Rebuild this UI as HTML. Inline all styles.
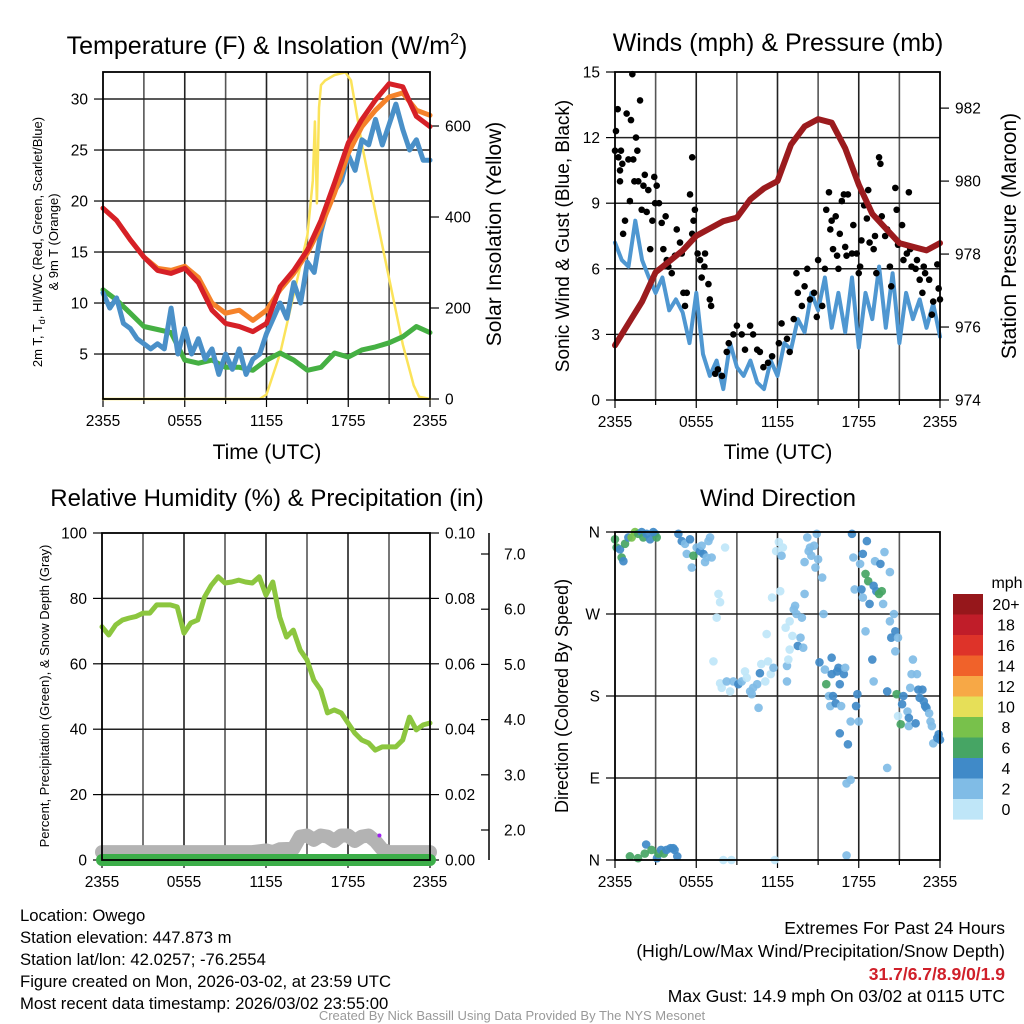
<!DOCTYPE html>
<html><head><meta charset="utf-8"><style>
html,body{margin:0;padding:0;background:#fff;}
svg{display:block;font-family:"Liberation Sans",sans-serif;}
</style></head><body>
<svg id="chart" width="1024" height="1024" viewBox="0 0 1024 1024" xmlns="http://www.w3.org/2000/svg">
<rect x="0" y="0" width="1024" height="1024" fill="#fff"/>
<text x="267" y="54" font-size="25" text-anchor="middle">Temperature (F) &amp; Insolation (W/m<tspan font-size="16" dy="-10">2</tspan><tspan dy="10">)</tspan></text>
<text x="778" y="51" font-size="25" text-anchor="middle">Winds (mph) &amp; Pressure (mb)</text>
<text x="267" y="506" font-size="24" text-anchor="middle">Relative Humidity (%) &amp; Precipitation (in)</text>
<text x="778" y="506" font-size="24" text-anchor="middle">Wind Direction</text>

<text transform="translate(42,242) rotate(-90)" font-size="13" text-anchor="middle">2m T, T<tspan font-size="9" dy="3">d</tspan><tspan dy="-3">, HI/WC (Red, Green, Scarlet/Blue)</tspan></text>
<text transform="translate(58,242) rotate(-90)" font-size="13" text-anchor="middle">&amp; 9m T (Orange)</text>
<text transform="translate(501,234) rotate(-90)" font-size="21" text-anchor="middle">Solar Insolation (Yellow)</text>
<text x="267" y="459" font-size="21" text-anchor="middle">Time (UTC)</text>
<text transform="translate(569,236) rotate(-90)" font-size="19" text-anchor="middle">Sonic Wind &amp; Gust (Blue, Black)</text>
<text transform="translate(1016,236) rotate(-90)" font-size="21" text-anchor="middle">Station Pressure (Maroon)</text>
<text x="778" y="459" font-size="21" text-anchor="middle">Time (UTC)</text>
<text transform="translate(49,696) rotate(-90)" font-size="13" text-anchor="middle">Percent, Precipitation (Green), &amp; Snow Depth (Gray)</text>
<text transform="translate(568,696) rotate(-90)" font-size="18" text-anchor="middle">Direction (Colored By Speed)</text>

<g font-size="16.7">
<text x="20" y="921">Location: Owego</text>
<text x="20" y="943">Station elevation: 447.873 m</text>
<text x="20" y="965">Station lat/lon: 42.0257; -76.2554</text>
<text x="20" y="987">Figure created on Mon, 2026-03-02, at 23:59 UTC</text>
<text x="20" y="1009">Most recent data timestamp: 2026/03/02 23:55:00</text>
</g>
<g font-size="17.5" text-anchor="end">
<text x="1005" y="934">Extremes For Past 24 Hours</text>
<text x="1005" y="957">(High/Low/Max Wind/Precipitation/Snow Depth)</text>
<text x="1005" y="980" fill="#d0202a" font-weight="bold">31.7/6.7/8.9/0/1.9</text>
<text x="1005" y="1002">Max Gust: 14.9 mph On 03/02 at 0115 UTC</text>
</g>
<text x="512" y="1020" font-size="13" fill="#999" text-anchor="middle">Created By Nick Bassill Using Data Provided By The NYS Mesonet</text>
<text x="1007" y="588" font-size="16" text-anchor="middle">mph</text>
</svg>
<script>
// ---------- DATA ----------
const timeLabels = ["2355","0555","1155","1755","2355"];
const timeLabelHours = [0,6,12,18,24];
// Temperature panel (hourly 0..24)
const tempHours = [0,1,2,3,4,5,6,7,8,9,10,11,12,13,14,15,16,17,18,19,20,21,22,23,24];
const redT = [19.3,18.1,16.2,14.5,13.2,12.9,13.4,12.0,9.3,8.0,7.7,7.2,8.0,11.6,13.2,15.2,18.1,21.8,25.7,28.0,29.9,31.5,31.2,28.3,27.3];
const orangeT = [19.3,18.1,16.2,14.5,13.4,13.2,13.6,12.5,10.0,9.0,9.3,8.3,9.3,11.3,12.9,14.9,17.5,20.8,24.7,27.3,28.9,30.2,30.6,28.9,28.4];
const greenTd = [11.3,10.3,9.0,7.7,7.4,7.1,4.4,4.1,4.4,3.7,3.7,3.4,4.4,5.1,4.4,3.4,3.7,5.1,4.7,5.4,5.7,6.1,6.7,7.7,7.1];
const blueHours = [0,0.5,1,1.5,2,2.5,3,3.5,4,4.5,5,5.5,6,6.5,7,7.5,8,8.5,9,9.5,10,10.5,11,11.5,12,12.5,13,13.5,14,14.5,15,15.5,16,16.5,17,17.5,18,18.5,19,19.5,20,20.5,21,21.5,22,22.5,23,23.5,24];
const blueWC = [11,9.5,10.5,8,7.5,6.5,6,5.5,6,5.5,9.5,5,7.5,5,6.5,4.5,5.5,3,5,3.5,5.5,3,4.5,5,7,8.5,10,8.5,12,10,14,13,17,19.5,21,22,24.5,23,26,25.5,28,25.5,27.5,29.5,27,25,26,24,24];
const solarHours = [0,11.5,12,13,14,15,15.4,15.55,15.7,15.85,16,16.3,17,17.8,18.2,19,20,21,22,22.8,23.2,24];
const solarW = [0,0,10,100,230,360,480,610,430,640,690,700,712,718,700,560,410,265,120,30,5,0];
const tempTicks = [5,10,15,20,25,30];
const solarTicks = [0,200,400,600];
// Winds panel
const windHours = blueHours;
const sonicWind = [7.2,6.4,6.1,8.2,6.4,5.6,4.9,5.6,4.1,4.6,4.0,2.6,4.9,2.1,1.1,1.8,0.5,2.6,1.5,1.1,1.8,0.8,0.5,1.8,1.1,2.6,2.3,3.7,3.1,4.9,4.1,5.6,3.3,4.9,3.1,5.6,2.4,4.9,3.7,6.1,3.3,5.8,2.6,4.9,3.7,4.6,3.3,4.4,2.9];
const pressHours = tempHours;
const pressure = [975.5,976.1,976.7,977.5,977.8,978.1,978.5,978.7,978.9,979.0,979.5,979.8,980.0,981.0,981.5,981.7,981.6,980.9,979.9,979.1,978.7,978.3,978.2,978.1,978.3];
const gustHours = [0,0.07,0.2,0.25,0.37,0.44,0.37,0.54,0.6,0.74,0.86,0.99,1.1,1.18,1.28,1.35,1.43,1.55,1.65,1.72,1.85,1.97,2.1,2.2,2.34,2.46,2.6,2.76,2.9,2.96,3.08,3.25,3.45,3.57,3.74,3.82,3.94,4.19,4.43,4.56,4.8,4.93,5.05,5.17,5.3,5.54,5.7,5.7,5.8,5.9,6.1,6.28,6.4,6.6,6.65,6.9,7.0,7.1,7.4,7.6,7.9,8.25,8.4,8.74,9,9.36,9.6,9.98,10.2,10.5,10.7,10.96,11.3,11.6,12.1,12.3,12.7,12.9,13.2,13.4,13.5,13.8,14.0,14.2,14.4,14.7,14.9,15.0,15.3,15.5,15.6,15.8,15.9,16.0,16.1,16.3,16.4,16.5,16.6,16.75,16.9,17,17.1,17.2,17.5,17.6,17.85,18,18.1,18.2,18.4,18.6,18.7,18.8,19.1,19.2,19.3,19.5,19.6,19.7,19.95,20.1,20.3,20.4,20.7,20.8,20.9,21.2,21.3,21.55,21.7,21.8,21.9,22.2,22.3,22.5,22.7,22.8,22.9,23.2,23.4,23.5,23.8,23.9,24];
const gustSpeeds = [11.4,12.3,13.3,11.1,10.5,11.4,10,10.8,7.6,8.2,13.1,11,9.1,12.8,14.9,11,10,12,11.4,10,13.7,8.7,9.8,10.3,8.6,9.6,6.9,8.2,10.2,9,9.8,9,8.1,6.9,8.4,6.4,6.1,5.8,6.6,7.8,7.2,6.7,4.9,4.3,4.9,9.4,11.1,7.6,8.2,8.7,6.7,6.4,5.6,6.1,6.7,5.3,4.6,4.3,1.2,1.4,1.1,2.2,2.6,3,3.4,3.0,2.3,3.4,3,2.3,2.2,1.5,1.7,2,2.6,3.5,2.8,2.2,3.7,5.8,4.9,4.3,5.2,6,4.6,4.9,3.8,6.4,4.3,6,8.7,9.5,7.8,8.2,6.9,8.4,6.6,6,7.6,9.1,9.4,7.0,6.6,9.4,6.7,8.0,6.7,5.8,6.1,7.3,8.9,8.3,9.6,7.2,6.9,7.5,5.8,11.1,10.8,8.4,7.5,7.8,6.1,5.2,9.7,8.7,7.1,8.0,6.4,6.7,9.5,6.9,6.1,6.0,6.4,5.5,4.9,6.1,5.8,5.5,3.9,4.5,6.2,5.1,4.6];
const windTicks = [0,3,6,9,12,15];
const pressTicks = [974,976,978,980,982];
// Humidity panel
const rhHours = blueHours;
const rh = [71.3,68.8,71.9,73.4,74,74.5,75.5,75.5,78,78,78,77.4,69.4,72.5,73.4,80.4,84,86.6,84.7,85,85.6,85,84.7,86.6,81.0,85,74.3,68.2,70.3,64.2,61.2,55,52,45,45.9,45,41.9,38.8,36.7,35.8,33.6,34.6,34.6,34.6,36.7,43.7,39.8,41.3,41.9];
const precipHours = [0,24];
const precip = [0,0];
const snowHours = [0,11,12,12.5,13,14,14.5,15,15.5,16,16.5,17,17.5,18,18.5,19,19.5,20,20.5,21,21.5,24];
const snowDepth = [1.6,1.6,1.63,1.6,1.65,1.66,1.88,1.9,1.82,1.9,1.88,1.8,1.9,1.9,1.8,1.88,1.9,1.8,1.65,1.6,1.6,1.6];
const rhTicks = [0,20,40,60,80,100];
const precipTicks = [0.00,0.02,0.04,0.06,0.08,0.10];
const snowTicks = [2.0,3.0,4.0,5.0,6.0,7.0];
// Wind direction panel
const dirTicks = [0,90,180,270,360];
const dirTickLabels = ["N","E","S","W","N"];
const dirHours = [0.0,0.12,0.37,0.49,0.62,0.74,0.99,1.23,1.48,1.72,1.97,2.09,2.34,2.59,2.96,3.08,2.83,
4.68,4.93,5.17,5.3,5.54,5.67,5.79,6.03,6.28,6.4,6.53,6.65,6.77,6.9,7.02,7.14,8.13,
7.64,7.76,7.51,7.27,7.76,7.88,8.25,8.5,8.74,9.11,9.36,9.6,9.73,9.98,10.1,10.2,10.5,10.6,10.7,10.8,11.1,11.2,11.3,11.5,11.6,11.7,11.9,12.1,12.2,12.3,12.4,12.6,12.7,12.7,12.8,12.9,12.9,13.1,13.2,13.3,13.4,13.5,13.7,13.8,13.9,14.0,14.0,14.2,14.3,14.4,14.5,14.7,14.8,14.9,15.0,15.1,15.3,15.4,15.5,15.6,15.8,15.9,16.0,16.0,16.1,16.3,16.4,16.5,16.6,16.7,16.9,17.0,16.6,17.2,17.4,17.5,17.6,17.7,17.9,17.8,18.0,17.1,17.4,17.1,
18.1,18.2,18.3,18.3,18.5,18.5,18.6,18.7,18.8,19.0,19.1,19.1,19.2,19.3,19.5,19.6,19.7,19.8,19.9,20.1,20.1,20.3,20.3,20.4,20.6,20.7,20.9,20.7,20.8,20.9,21.2,21.3,21.1,21.6,21.7,21.7,21.8,21.9,22.0,22.2,22.3,22.4,22.5,22.7,22.8,22.9,23.0,23.2,23.3,23.4,23.5,23.8,23.9,24.0,
1.1,1.7,2.2,2.3,2.7,3.1,3.2,3.4,3.6,3.8,4.1,4.3,4.4,4.6,8.0,8.6,11.8];
const dirDegrees = [352,343,341,332,328,347,354,354,360,358,360,354,358,352,358,354,360,
358,350,347,336,352,321,334,343,339,345,336,327,332,350,354,332,343,
292,283,266,218,194,189,196,185,196,193,196,207,200,185,182,189,193,167,205,215,196,248,218,204,288,211,339,349,295,334,343,255,213,196,220,231,262,246,275,279,270,235,244,266,233,292,327,354,339,343,334,345,321,358,330,217,310,270,209,193,180,169,204,222,180,172,207,211,193,169,204,211,139,127,152,358,332,297,182,169,152,84,88,5,
325,297,288,336,314,251,350,306,281,220,196,301,328,295,292,325,295,281,338,185,101,316,262,244,270,251,244,229,182,158,171,180,149,163,147,156,189,204,220,150,204,187,178,187,174,169,167,161,152,147,128,134,138,132,
4,2,7,17,11,2,7,11,7,11,13,13,11,4,0,0,0];
const dirSpeeds = [6.5,6.5,4.5,6.5,4.5,6.5,4.5,8.5,8.5,6.5,4.5,6.5,4.5,4.5,4.5,6.5,4.5,
4.5,4.5,2.5,2.5,4.5,2.5,6.5,2.5,4.5,2.5,4.5,2.5,2.5,2.5,2.5,2.5,1,
1,1,1,1,1,1,2.5,1,2.5,4.5,2.5,1,1,2.5,2.5,2.5,2.5,2.5,4.5,1,1,1,1,1,1,2.5,1,1,1,2.5,1,1,2.5,2.5,1,1,1,1,2.5,2.5,2.5,4.5,2.5,2.5,2.5,2.5,2.5,2.5,2.5,2.5,2.5,2.5,2.5,2.5,2.5,4.5,2.5,2.5,2.5,6.5,2.5,2.5,4.5,4.5,4.5,4.5,4.5,4.5,4.5,2.5,4.5,2.5,4.5,4.5,2.5,4.5,2.5,2.5,4.5,4.5,2.5,2.5,2.5,2.5,
2.5,4.5,2.5,4.5,6.5,2.5,4.5,6.5,4.5,4.5,2.5,4.5,2.5,4.5,6.5,4.5,6.5,2.5,2.5,4.5,2.5,2.5,2.5,4.5,2.5,4.5,2.5,2.5,6.5,1,4.5,4.5,6.5,2.5,2.5,4.5,2.5,2.5,2.5,4.5,2.5,4.5,4.5,4.5,4.5,4.5,4.5,2.5,2.5,2.5,2.5,4.5,4.5,4.5,
6.5,6.5,6.5,4.5,6.5,4.5,6.5,4.5,6.5,4.5,4.5,4.5,4.5,4.5,1,1,1];
const colorbarLabels = ["20+","18","16","14","12","10","8","6","4","2","0"];
const speedColors = ["#bfe6f8","#80bce6","#408ac8","#46a564","#78c14b","#e6df58","#f7a846","#f0622a","#de3329","#c01d29","#96171b"];

// ---------- HELPERS ----------
const svg = document.getElementById('chart');
const NS = 'http://www.w3.org/2000/svg';
const TICK_FS = 15.5;
function mk(tag, attrs, parent){const e=document.createElementNS(NS,tag);for(const k in attrs)e.setAttribute(k,attrs[k]);(parent||svg).appendChild(e);return e;}
function lin(d0,d1,r0,r1){return v=>r0+(v-d0)/(d1-d0)*(r1-r0);}

function panel(name,x0,x1,y0,y1){
  const g=mk('g',{});
  
  
  const xs=lin(0,24,x0,x1);
  for(let h=3;h<24;h+=3){
    const l=mk('line',{x1:xs(h),x2:xs(h),y1:y0,y2:y1,stroke:(h%6===0)?'#222':'#555','stroke-width':1.6},g);
    
    
  }
  for(let h=0;h<=24;h+=3){
    const t=mk('line',{x1:xs(h),x2:xs(h),y1:y1,y2:y1+(h%6===0?8:5),stroke:'#000','stroke-width':1.2},g);
    
    
  }
  timeLabelHours.forEach((h,i)=>{
    const t=mk('text',{x:xs(h),y:y1+27,'font-size':TICK_FS,'text-anchor':'middle'},g);
    t.textContent=timeLabels[i];
    
    
  });
  return {g,xs,x0,x1,y0,y1};
}
function hgrid(p,ys,ticks){
  ticks.forEach(v=>{const y=ys(v);if(y<=p.y0+1||y>=p.y1-1)return;
    const l=mk('line',{x1:p.x0,x2:p.x1,y1:y,y2:y,stroke:'#222','stroke-width':1.5},p.g);
    
    });
}
function leftTicks(p,ys,ticks,labels){
  ticks.forEach((v,i)=>{const y=ys(v);
    const l=mk('line',{x1:p.x0-9,x2:p.x0,y1:y,y2:y,stroke:'#000','stroke-width':1.2},p.g);
    
    
    const t=mk('text',{x:p.x0-15,y:y+5.5,'font-size':TICK_FS,'text-anchor':'end'},p.g);
    t.textContent=labels?labels[i]:String(v);
    
    });
}
function rightTicks(p,ys,ticks,fmt,xAxis,len){
  const xa=xAxis||p.x1;
  ticks.forEach(v=>{const y=ys(v);
    const l=mk('line',{x1:xa,x2:xa+(len||9),y1:y,y2:y,stroke:'#000','stroke-width':1.2},p.g);
    
    
    const t=mk('text',{x:xa+15,y:y+5.5,'font-size':TICK_FS,'text-anchor':'start'},p.g);
    t.textContent=fmt(v);
    
    });
}
function frame(p){
  const r=mk('rect',{x:p.x0,y:p.y0,width:p.x1-p.x0,height:p.y1-p.y0,fill:'none',stroke:'#000','stroke-width':1.8},p.g);
  
  
}
function line(p,xsArr,ysArr,xs,ys,color,w,name){
  const d=xsArr.map((h,i)=>(i?'L':'M')+xs(h).toFixed(1)+','+ys(ysArr[i]).toFixed(1)).join('');
  const e=mk('path',{d:d,fill:'none',stroke:color,'stroke-width':w,'stroke-linejoin':'round','stroke-linecap':'round'},p.g);
  
  
  return e;
}

// ---------- PANEL 1: Temperature ----------
{
  const p=panel('temperature-panel',103,430,72,399);
  const ys=lin(0.59,32.65,399,72), ysR=lin(0,718.7,399,72);
  hgrid(p,ys,tempTicks);
  leftTicks(p,ys,tempTicks);
  rightTicks(p,ysR,solarTicks,v=>String(v));
  line(p,solarHours,solarW,p.xs,ysR,'#fbe35a',2.5,'solar-insolation-line');
  line(p,tempHours,greenTd,p.xs,ys,'#45b043',5,'dewpoint-line');
  line(p,blueHours,blueWC,p.xs,ys,'#4a90c8',5,'windchill-line');
  line(p,tempHours,orangeT,p.xs,ys,'#f5822a',5,'temp-9m-line');
  line(p,tempHours,redT,p.xs,ys,'#d62027',5,'temp-2m-line');
  frame(p);
}
// ---------- PANEL 2: Winds ----------
{
  const p=panel('winds-panel',615,940,72,400);
  const ys=lin(0,15,400,72), ysR=lin(974,982.99,400,72);
  hgrid(p,ys,windTicks);
  leftTicks(p,ys,windTicks);
  rightTicks(p,ysR,pressTicks,v=>String(v));
  line(p,windHours,sonicWind,p.xs,ys,'#4f97d1',4,'sonic-wind-line');
  gustHours.forEach((h,i)=>{
    const c=mk('circle',{cx:p.xs(h),cy:ys(gustSpeeds[i]),r:3.3,fill:'#000'},p.g);
    
    
  });
  line(p,pressHours,pressure,p.xs,ysR,'#9b1b1e',6,'pressure-line');
  frame(p);
}
// ---------- PANEL 3: Humidity ----------
{
  const p=panel('humidity-panel',102,430,533,860);
  const ys=lin(0,100,860,533), ysR=lin(0,0.1,860,533), ysS=lin(2,7,830,554);
  hgrid(p,ys,rhTicks);
  leftTicks(p,ys,rhTicks);
  rightTicks(p,ysR,precipTicks,v=>v.toFixed(2));
  const ax=mk('line',{x1:489,x2:489,y1:533,y2:860,stroke:'#000','stroke-width':1.5},p.g);
  
  
  rightTicks(p,ysS,snowTicks,v=>v.toFixed(1),489,-8);
  line(p,snowHours,snowDepth,p.xs,ysS,'#b3b3b3',14,'snow-depth-line');
  line(p,precipHours,precip,p.xs,ysR,'#3cae49',12,'precipitation-line');
  line(p,rhHours,rh,p.xs,ys,'#8cc63f',5,'relative-humidity-line');
  const dot=mk('circle',{cx:p.xs(20.3),cy:ysS(1.9),r:2,fill:'#a020f0'},p.g);
  
  
  frame(p);
}
// ---------- PANEL 4: Wind direction ----------
{
  const p=panel('wind-direction-panel',615,940,532,860);
  const ys=lin(0,360,860,532);
  hgrid(p,ys,dirTicks);
  leftTicks(p,ys,dirTicks,dirTickLabels);
  dirHours.forEach((h,i)=>{
    const idx=Math.min(10,Math.floor(dirSpeeds[i]/2));
    const c=mk('circle',{cx:p.xs(h),cy:ys(dirDegrees[i]),r:4.3,fill:speedColors[idx],'fill-opacity':0.92},p.g);
    
    
  });
  frame(p);
  colorbarLabels.forEach((lab,i)=>{
    const y=594+i*20.5;
    const r=mk('rect',{x:953,y:y,width:30,height:20.6,fill:speedColors[10-i]});
    
    
    const t=mk('text',{x:1006,y:y+16,'font-size':16,'text-anchor':'middle'});
    t.textContent=lab;
    
    
  });
}
</script>
</body></html>
